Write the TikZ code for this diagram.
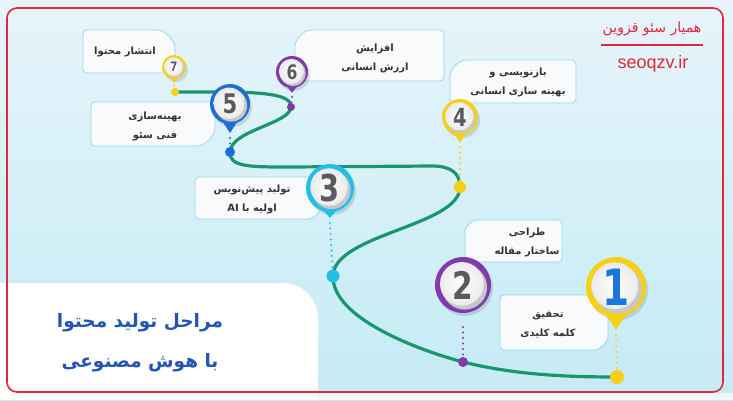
\documentclass[tikz,border=0pt]{standalone}
\usepackage{fontspec}
\newfontfamily\fa[Script=Arabic]{DejaVu Sans}
\newfontfamily\numfont[FakeStretch=0.78]{DejaVu Sans}
\newfontfamily\latinfont{Liberation Sans}
\TeXXeTstate=1

\definecolor{bgtop}{RGB}{231,244,251}
\definecolor{bgbot}{RGB}{196,235,245}
\definecolor{framered}{RGB}{224,40,56}
\definecolor{titleblue}{RGB}{36,84,180}
\definecolor{cardfill}{RGB}{248,250,251}
\definecolor{cardline}{RGB}{150,218,228}
\definecolor{roadgreen}{RGB}{26,150,110}
\definecolor{pinyellow}{RGB}{246,208,22}
\definecolor{pinpurple}{RGB}{128,58,170}
\definecolor{pincyan}{RGB}{32,190,232}
\definecolor{pinblue}{RGB}{28,110,210}
\definecolor{numblue}{RGB}{24,118,220}
\definecolor{numgray}{RGB}{90,90,95}

\tikzset{
  card/.style={fill=cardfill, draw=cardline, line width=0.8pt, rounded corners=4pt},
  cardtext/.style={font=\fa\bfseries\fontsize{10}{19}\selectfont, text=black!80, align=center},
  road/.style={draw=roadgreen, line width=3.2pt, line cap=round},
  pindots/.style={line width=2.2pt, line cap=round, dash pattern=on 0pt off 5.5pt},
}

\begin{document}
\begin{tikzpicture}[x=1pt,y=-1pt]
  % background
  \useasboundingbox (0,0) rectangle (733,400);
  \fill[top color=bgtop, bottom color=bgbot] (0,0) rectangle (733,400);
  \fill[black!4] (0,393) rectangle (733,400);
  \fill[white] (0,400) -- (0,283) -- (283,283) .. controls (302,283) and (318,299) .. (318,318) -- (318,400) -- cycle;
  \draw[framered, line width=1.6pt, rounded corners=10pt] (7,8) rectangle (723,392);

  % brand
  \node[font=\fa\fontsize{14}{14}\selectfont, text=framered] (brand) at (652,29) {\beginR همیار سئو قزوین\endR};
  \draw[framered, line width=2.6pt] (601,45) -- (703,45);
  \node[font=\latinfont\fontsize{18}{18}\selectfont, text=framered] (site) at (653,64) {seoqzv.ir};

  % title
  \node[font=\fa\bfseries\fontsize{18.5}{40}\selectfont, text=titleblue, align=center] (title) at (140,343)
    {\beginR مراحل تولید محتوا\endR\\\beginR با هوش مصنوعی\endR};

  % cards
  \draw[card] (500,295) -- (608,295) -- (608,332) .. controls (608,342) and (600,350) .. (590,350) -- (500,350) -- cycle;
  \draw[card] (465,235) .. controls (465,227) and (472,220) .. (480,220) -- (562,220) -- (562,262) -- (465,262) -- cycle;
  \draw[card] (195,177) -- (322,177) -- (322,201) .. controls (322,211) and (314,219) .. (304,219) -- (195,219) -- cycle;
  \draw[card] (450,80) .. controls (450,69) and (459,60) .. (470,60) -- (576,60) -- (576,103) -- (450,103) -- cycle;
  \draw[card] (91,102) -- (215,102) -- (215,124) .. controls (215,136) and (205,146) .. (193,146) -- (91,146) -- cycle;
  \draw[card] (295,50) .. controls (295,39) and (304,30) .. (315,30) -- (444,30) -- (444,81) -- (295,81) -- cycle;
  \draw[card] (83,30) -- (153,30) .. controls (165,30) and (175,40) .. (175,52) -- (175,73) -- (83,73) -- cycle;

  \node[cardtext] (t1) at (548,325) {\beginR تحقیق\endR\\\beginR کلمه کلیدی\endR};
  \node[cardtext] (t2) at (527,242) {\beginR طراحی\endR\\\beginR ساختار مقاله\endR};
  \node[cardtext] (t3) at (252,199) {\beginR تولید پیش‌نویس\endR\\\beginR اولیه با \beginL AI\endL\endR};
  \node[cardtext] (t4) at (518,82) {\beginR بازنویسی و\endR\\\beginR بهینه سازی انسانی\endR};
  \node[cardtext] (t5) at (155,126) {\beginR بهینه‌سازی\endR\\\beginR فنی سئو\endR};
  \node[cardtext] (t6) at (375,58) {\beginR افزایش\endR\\\beginR ارزش انسانی\endR};
  \node[cardtext] (t7) at (125,52) {\beginR انتشار محتوا\endR};

  % road
  \coordinate (d1) at (617,377);
  \coordinate (d2) at (463,362);
  \coordinate (d3) at (333,276);
  \coordinate (d4) at (460,187);
  \coordinate (d5) at (230,152);
  \coordinate (d6) at (291,107);
  \coordinate (d7) at (175,92);
  \draw[road] (d7) -- (215,92) .. controls (262,92) and (292,94) .. (d6)
    .. controls (290,124) and (231,130) .. (d5)
    .. controls (229,167) and (250,167) .. (290,167)
    -- (432,166) .. controls (452,166) and (460,174) .. (d4)
    .. controls (460,226) and (334,234) .. (d3)
    .. controls (332,318) and (418,350) .. (d2)
    .. controls (512,374) and (560,377) .. (d1);

  % pins
  \foreach \i/\x/\y/\rad/\col/\tip/\fs/\num/\st/\dr in {
      1/616/287/30/pinyellow/1.42/50/numblue/335/7,
      2/463/285/28/pinpurple/0.7/38/numgray/327/5,
      3/330/188/24/pincyan/1.25/37/numgray/223/6.5,
      4/460/117/18/pinyellow/1.42/25/numgray/147/6,
      5/230/104/20/pinblue/1.45/27/numgray/138/5,
      6/292/72/16/pinpurple/1.3/20/numgray/97/4,
      7/174/67/12/pinyellow/1.3/13/numgray/85/4}{
    \coordinate (s\i) at (\x,\st);
    \draw[pindots, draw=\col] (s\i) -- (d\i);
    \fill[\col] (d\i) circle[radius=\dr];
    \fill[black, opacity=0.12] ({\x+2},{\y+3}) circle[radius=\rad];
    \fill[\col] ({\x-0.55*\rad},{\y+0.6*\rad}) -- (\x,{\y+\tip*\rad}) -- ({\x+0.55*\rad},{\y+0.6*\rad}) -- cycle;
    \fill[\col] (\x,\y) circle[radius=\rad];
    \fill[black!22] ({\x+0.06*\rad},{\y+0.08*\rad}) circle[radius=0.8*\rad];
    \shade[inner color=white, outer color=black!8] ({\x-0.04*\rad},{\y-0.04*\rad}) circle[radius=0.78*\rad];
    \node[font=\numfont\bfseries\fontsize{\fs}{\fs}\selectfont, text=\num] (n\i) at (\x,\y) {\i};
  }
\end{tikzpicture}
\end{document}
